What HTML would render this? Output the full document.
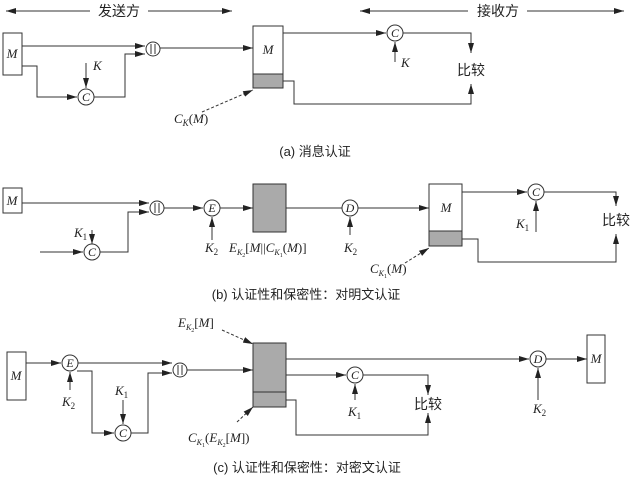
<!DOCTYPE html>
<html><head><meta charset="utf-8"><style>
html,body{margin:0;padding:0;background:#fff}
svg{display:block}
text{font-family:"Liberation Serif","Noto Serif CJK SC",serif;fill:#222}
.i{font-style:italic}
.cn{font-family:"Liberation Sans","Noto Sans CJK SC",sans-serif}
</style></head><body>
<svg width="630" height="480" viewBox="0 0 630 480" xmlns="http://www.w3.org/2000/svg">
<defs><marker id="a" markerWidth="10" markerHeight="6" refX="10" refY="3" orient="auto" markerUnits="userSpaceOnUse"><path d="M0,0 L10,3 L0,6 z" fill="#222"/></marker></defs>
<g stroke="#333" stroke-width="1" fill="none">
<!-- header arrows -->
<line x1="90" y1="11" x2="6" y2="11" marker-end="url(#a)"/><line x1="148" y1="11" x2="232" y2="11" marker-end="url(#a)"/>
<line x1="468" y1="11" x2="360" y2="11" marker-end="url(#a)"/><line x1="527" y1="11" x2="624" y2="11" marker-end="url(#a)"/>
<!-- (a) -->
<rect x="3" y="33" width="19" height="42"/>
<line x1="22" y1="46" x2="145" y2="46" marker-end="url(#a)"/>
<polyline points="22,66 37,66 37,97 77,97" marker-end="url(#a)"/>
<circle cx="86" cy="97" r="8"/>
<line x1="86" y1="63" x2="86" y2="88" marker-end="url(#a)"/>
<polyline points="94,97 125,97 125,54 145,54" marker-end="url(#a)"/>
<circle cx="153" cy="49" r="7"/>
<line x1="160" y1="48" x2="253" y2="48" marker-end="url(#a)"/>
<rect x="253" y="26" width="30" height="62"/>
<rect x="253" y="74" width="30" height="14" fill="#aaa"/>
<line x1="283" y1="33" x2="386" y2="33" marker-end="url(#a)"/>
<circle cx="395" cy="33" r="8"/>
<line x1="395" y1="62" x2="395" y2="42" marker-end="url(#a)"/>
<polyline points="403,33 471,33 471,53" marker-end="url(#a)"/>
<polyline points="283,81 294,81 294,104 471,104 471,84" marker-end="url(#a)"/>
<line x1="202" y1="112" x2="253" y2="90" stroke-dasharray="3,2" marker-end="url(#a)"/>
<!-- (b) -->
<rect x="3" y="188" width="19" height="25"/>
<line x1="22" y1="203" x2="149" y2="203" marker-end="url(#a)"/>
<line x1="40" y1="252" x2="83" y2="252" marker-end="url(#a)"/>
<circle cx="92" cy="252" r="8"/>
<line x1="92" y1="230" x2="92" y2="244" marker-end="url(#a)"/>
<polyline points="100,252 128,252 128,212 149,212" marker-end="url(#a)"/>
<circle cx="157" cy="208" r="7"/>
<line x1="164" y1="208" x2="203" y2="208" marker-end="url(#a)"/>
<circle cx="212" cy="208" r="8"/>
<line x1="212" y1="240" x2="212" y2="217" marker-end="url(#a)"/>
<line x1="220" y1="208" x2="253" y2="208" marker-end="url(#a)"/>
<rect x="253" y="184" width="33" height="48" fill="#aaa"/>
<line x1="286" y1="208" x2="342" y2="208"/>
<circle cx="350" cy="208" r="8"/>
<line x1="350" y1="235" x2="350" y2="217" marker-end="url(#a)"/>
<line x1="358" y1="208" x2="429" y2="208" marker-end="url(#a)"/>
<rect x="429" y="184" width="33" height="62"/>
<rect x="429" y="231" width="33" height="15" fill="#aaa"/>
<line x1="462" y1="192" x2="527" y2="192" marker-end="url(#a)"/>
<circle cx="536" cy="192" r="8"/>
<line x1="536" y1="232" x2="536" y2="201" marker-end="url(#a)"/>
<polyline points="544,192 616,192 616,206" marker-end="url(#a)"/>
<polyline points="462,239 478,239 478,262 616,262 616,234" marker-end="url(#a)"/>
<line x1="405" y1="263" x2="429" y2="248" stroke-dasharray="3,2" marker-end="url(#a)"/>
<!-- (c) -->
<rect x="7" y="352" width="19" height="48"/>
<line x1="26" y1="363" x2="61" y2="363" marker-end="url(#a)"/>
<circle cx="70" cy="363" r="8"/>
<line x1="70" y1="390" x2="70" y2="372" marker-end="url(#a)"/>
<line x1="78" y1="363" x2="172" y2="363" marker-end="url(#a)"/>
<polyline points="77,371 92,371 92,433 114,433" marker-end="url(#a)"/>
<circle cx="123" cy="433" r="8"/>
<line x1="123" y1="400" x2="123" y2="424" marker-end="url(#a)"/>
<polyline points="131,433 148,433 148,373 172,373" marker-end="url(#a)"/>
<circle cx="180" cy="370" r="7"/>
<line x1="187" y1="370" x2="253" y2="370" marker-end="url(#a)"/>
<rect x="253" y="343" width="33" height="64" fill="#aaa"/>
<line x1="253" y1="392" x2="286" y2="392"/>
<line x1="286" y1="359" x2="529" y2="359" marker-end="url(#a)"/>
<circle cx="538" cy="359" r="8"/>
<line x1="538" y1="400" x2="538" y2="368" marker-end="url(#a)"/>
<line x1="546" y1="359" x2="587" y2="359" marker-end="url(#a)"/>
<rect x="587" y="335" width="18" height="48"/>
<line x1="286" y1="375" x2="346" y2="375" marker-end="url(#a)"/>
<circle cx="355" cy="375" r="8"/>
<line x1="355" y1="400" x2="355" y2="384" marker-end="url(#a)"/>
<polyline points="363,375 428,375 428,395" marker-end="url(#a)"/>
<polyline points="286,400 296,400 296,435 428,435 428,413" marker-end="url(#a)"/>
<line x1="222" y1="330" x2="253" y2="344" stroke-dasharray="3,2" marker-end="url(#a)"/>
<line x1="237" y1="422" x2="253" y2="407" stroke-dasharray="3,2" marker-end="url(#a)"/>
<!-- || bars -->
<line x1="151" y1="44" x2="151" y2="54"/><line x1="155" y1="44" x2="155" y2="54"/>
<line x1="155" y1="203" x2="155" y2="213"/><line x1="159" y1="203" x2="159" y2="213"/>
<line x1="178" y1="365" x2="178" y2="375"/><line x1="182" y1="365" x2="182" y2="375"/>
</g>
<g font-size="13">
<text x="119" y="16" text-anchor="middle" class="cn" font-size="14">发送方</text>
<text x="498" y="16" text-anchor="middle" class="cn" font-size="14">接收方</text>
<!-- a -->
<text class="i" x="12" y="58" text-anchor="middle">M</text>
<text class="i" x="86" y="101" text-anchor="middle" font-size="12">C</text>
<text class="i" x="93" y="70">K</text>
<text class="i" x="268" y="54" text-anchor="middle">M</text>
<text class="i" x="395" y="37" text-anchor="middle" font-size="12">C</text>
<text class="i" x="401" y="67">K</text>
<text x="471" y="75" text-anchor="middle" class="cn" font-size="14">比较</text>
<text x="174" y="123"><tspan class="i">C</tspan><tspan class="i" font-size="9" dy="3">K</tspan><tspan dy="-3">(</tspan><tspan class="i">M</tspan>)</text>
<text x="315" y="156" text-anchor="middle" class="cn">(a) 消息认证</text>
<!-- b -->
<text class="i" x="12" y="205" text-anchor="middle">M</text>
<text class="i" x="92" y="256" text-anchor="middle" font-size="12">C</text>
<text x="74" y="237"><tspan class="i">K</tspan><tspan font-size="9" dy="3">1</tspan></text>
<text class="i" x="212" y="212" text-anchor="middle" font-size="12">E</text>
<text x="205" y="252"><tspan class="i">K</tspan><tspan font-size="9" dy="3">2</tspan></text>
<text x="229" y="252"><tspan class="i">E</tspan><tspan class="i" font-size="8" dy="3">K</tspan><tspan font-size="6" dy="2">2</tspan><tspan dy="-5">[</tspan><tspan class="i">M</tspan>||<tspan class="i">C</tspan><tspan class="i" font-size="8" dy="3">K</tspan><tspan font-size="6" dy="2">1</tspan><tspan dy="-5">(</tspan><tspan class="i">M</tspan>)]</text>
<text class="i" x="350" y="212" text-anchor="middle" font-size="12">D</text>
<text x="344" y="252"><tspan class="i">K</tspan><tspan font-size="9" dy="3">2</tspan></text>
<text class="i" x="446" y="212" text-anchor="middle">M</text>
<text class="i" x="536" y="196" text-anchor="middle" font-size="12">C</text>
<text x="516" y="228"><tspan class="i">K</tspan><tspan font-size="9" dy="3">1</tspan></text>
<text x="616" y="225" text-anchor="middle" class="cn" font-size="14">比较</text>
<text x="370" y="273"><tspan class="i">C</tspan><tspan class="i" font-size="8" dy="3">K</tspan><tspan font-size="6" dy="2">1</tspan><tspan dy="-5">(</tspan><tspan class="i">M</tspan>)</text>
<text x="306" y="299" text-anchor="middle" class="cn">(b) 认证性和保密性：对明文认证</text>
<!-- c -->
<text class="i" x="16" y="380" text-anchor="middle">M</text>
<text class="i" x="70" y="367" text-anchor="middle" font-size="12">E</text>
<text x="62" y="406"><tspan class="i">K</tspan><tspan font-size="9" dy="3">2</tspan></text>
<text class="i" x="123" y="437" text-anchor="middle" font-size="12">C</text>
<text x="115" y="395"><tspan class="i">K</tspan><tspan font-size="9" dy="3">1</tspan></text>
<text x="178" y="327"><tspan class="i">E</tspan><tspan class="i" font-size="8" dy="3">K</tspan><tspan font-size="6" dy="2">2</tspan><tspan dy="-5">[</tspan><tspan class="i">M</tspan>]</text>
<text x="188" y="442"><tspan class="i">C</tspan><tspan class="i" font-size="8" dy="3">K</tspan><tspan font-size="6" dy="2">1</tspan><tspan dy="-5">(</tspan><tspan class="i">E</tspan><tspan class="i" font-size="8" dy="3">K</tspan><tspan font-size="6" dy="2">2</tspan><tspan dy="-5">[</tspan><tspan class="i">M</tspan>])</text>
<text class="i" x="355" y="379" text-anchor="middle" font-size="12">C</text>
<text x="348" y="416"><tspan class="i">K</tspan><tspan font-size="9" dy="3">1</tspan></text>
<text x="428" y="409" text-anchor="middle" class="cn" font-size="14">比较</text>
<text class="i" x="538" y="363" text-anchor="middle" font-size="12">D</text>
<text x="533" y="413"><tspan class="i">K</tspan><tspan font-size="9" dy="3">2</tspan></text>
<text class="i" x="596" y="363" text-anchor="middle">M</text>
<text x="307" y="472" text-anchor="middle" class="cn">(c) 认证性和保密性：对密文认证</text>
</g>
</svg>
</body></html>
